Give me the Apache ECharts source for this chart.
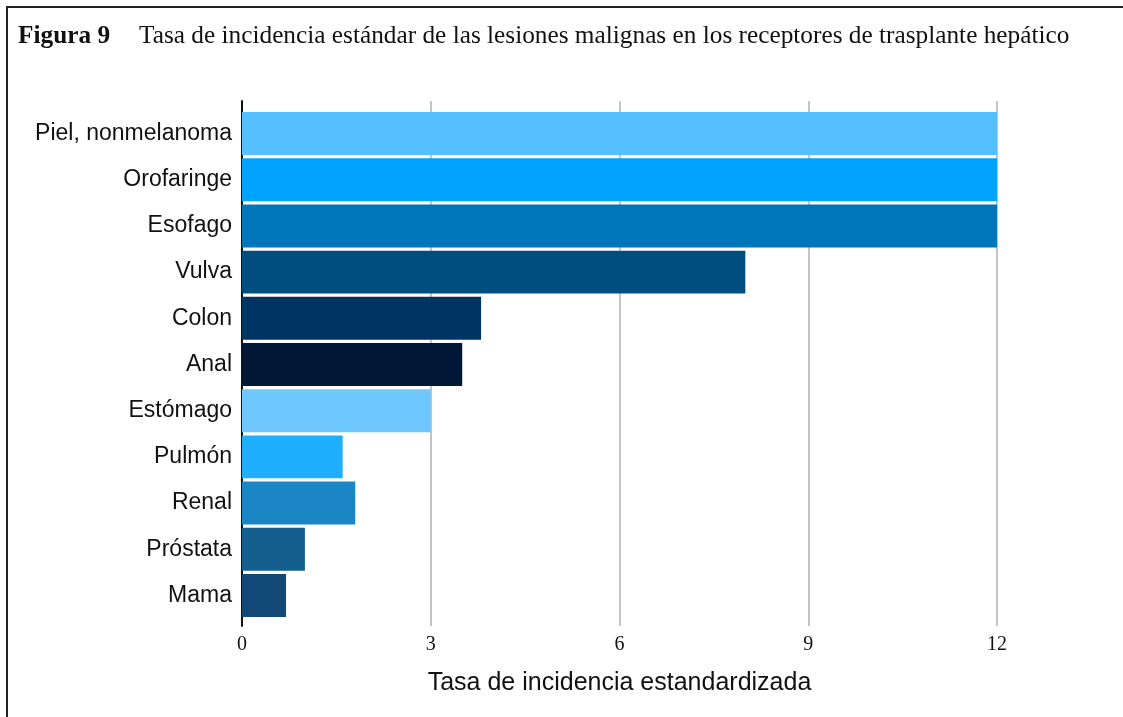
<!DOCTYPE html>
<html>
<head>
<meta charset="utf-8">
<script src="https://cdn.jsdelivr.net/npm/echarts@6/dist/echarts.min.js"></script>
<style>
  html, body { margin: 0; padding: 0; background: #fff; overflow: hidden; }
  #frame { position: absolute; left: 6px; top: 6px; width: 1300px; height: 900px; border: 2px solid #222; box-sizing: border-box; }
  #chart { position: absolute; left: 0; top: 0; width: 1123px; height: 717px; }
</style>
</head>
<body>
<div id="frame"></div>
<div id="chart"></div>
<script>
// Incidence categories, top to bottom
const categories = ['Piel, nonmelanoma', 'Orofaringe', 'Esofago', 'Vulva', 'Colon', 'Anal',
  'Estómago', 'Pulmón', 'Renal', 'Próstata', 'Mama'];
// Standardized incidence rate per category
const rates = [12, 12, 12, 8.0, 3.8, 3.5, 3.0, 1.6, 1.8, 1.0, 0.7];
// Fill colour per category
const barColors = ['#56bfff', '#00a2ff', '#0076ba', '#004e80', '#003462', '#001835',
  '#6ec8ff', '#20aeff', '#1b86c5', '#155f8f', '#124875'];
// X axis ticks
const xTicks = [0, 3, 6, 9, 12];

const chart = echarts.init(document.getElementById('chart'), null, { renderer: 'canvas' });

const sans = '"Liberation Sans", Arial, sans-serif';
const serif = '"Liberation Serif", "Times New Roman", serif';

chart.setOption({
  backgroundColor: 'transparent',
  animation: false,
  title: {
    left: 13,
    top: 19,
    text: '{b|Figura 9}{n|Tasa de incidencia estándar de las lesiones malignas en los receptores de trasplante hepático}',
    textStyle: {
      fontWeight: 'normal',
      rich: {
        b: { fontFamily: serif, fontWeight: 'bold', fontSize: 25.3, color: '#111', padding: [0, 29, 0, 0] },
        n: { fontFamily: serif, fontWeight: 'normal', fontSize: 25.3, color: '#111' }
      }
    }
  },
  grid: [
    { left: 242, right: 126, top: 110.5, height: 508 },
    { left: 242, right: 126, top: 101, height: 525 }
  ],
  xAxis: [
    { type: 'value', gridIndex: 0, min: xTicks[0], max: xTicks[xTicks.length - 1], show: false },
    {
      type: 'value', gridIndex: 1, min: xTicks[0], max: xTicks[xTicks.length - 1], interval: 3,
      axisLine: { show: false }, axisTick: { show: false },
      axisLabel: { fontFamily: serif, fontSize: 20, color: '#111', margin: 9 },
      splitLine: { show: true, lineStyle: { color: '#c4c4c4', width: 2 } },
      name: 'Tasa de incidencia estandardizada',
      nameLocation: 'middle',
      nameGap: 45,
      nameTextStyle: { fontFamily: sans, fontSize: 25, color: '#111' }
    }
  ],
  yAxis: [
    {
      type: 'category', gridIndex: 0, data: categories, inverse: true,
      axisLine: { show: false }, axisTick: { show: false },
      axisLabel: { fontFamily: sans, fontSize: 23, color: '#111', margin: 10 }
    },
    {
      type: 'value', gridIndex: 1, min: 0, max: 1,
      axisLine: { show: true, onZero: false, lineStyle: { color: '#111', width: 2 } },
      axisTick: { show: false }, axisLabel: { show: false }, splitLine: { show: false }
    }
  ],
  series: [{
    type: 'bar',
    xAxisIndex: 0,
    yAxisIndex: 0,
    data: rates.map((v, i) => ({ value: v, itemStyle: { color: barColors[i] } })),
    barCategoryGap: '7%',
    z: 3
  }]
});
</script>
</body>
</html>
